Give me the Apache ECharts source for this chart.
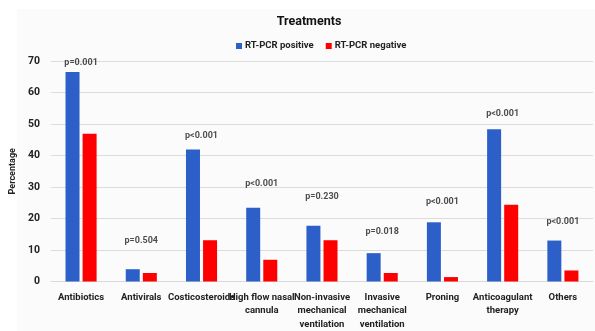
<!DOCTYPE html>
<html><head><meta charset="utf-8">
<script src="https://cdn.jsdelivr.net/npm/echarts@6/dist/echarts.min.js"></script>
<style>html,body{margin:0;padding:0;background:#fff}#c{width:595px;height:331px}</style>
</head><body><div id="c"></div>
<script>
const categories = ["Antibiotics","Antivirals","Costicosteroids","High flow nasal\ncannula","Non-invasive\nmechanical\nventilation","Invasive\nmechanical\nventilation","Proning","Anticoagulant\ntherapy","Others"];
const positive = [66.5, 3.9, 41.9, 23.4, 17.7, 9.0, 18.8, 48.3, 13.0];
const negative = [46.9, 2.7, 13.1, 6.9, 13.1, 2.7, 1.4, 24.4, 3.5];
const pLabels = ["p=0.001","p=0.504","p<0.001","p<0.001","p=0.230","p=0.018","p<0.001","p<0.001","p<0.001"];
const pLabelY = [69.4, 12.8, 46.2, 31.0, 26.8, 15.7, 25.2, 53.2, 19.1];
const yTicks = [0, 10, 20, 30, 40, 50, 60, 70];

const chart = echarts.init(document.getElementById('c'));
const font = 'Roboto, "Liberation Sans", sans-serif';
chart.setOption({
  animation: false,
  backgroundColor: '#fff',
  graphic: [{type:'rect', z:-10, shape:{x:17,y:9,width:578,height:322}, style:{fill:'#fbfbfb'}}],
  title: {text:'Treatments', left:304, top:10, textAlign:'center',
    textStyle:{fontFamily:font, fontSize:12.5, fontWeight:'bold', color:'#111'}},
  legend: {data:['RT-PCR positive','RT-PCR negative'], top:36, itemWidth:6, itemHeight:6, itemGap:12,
    left:231, icon:'rect',
    textStyle:{fontFamily:font, fontSize:9.5, fontWeight:'bold', color:'#222', padding:[0,0,0,-2]}},
  grid: {left:47, right:2, top:61, bottom:48},
  xAxis: {type:'category', data:categories,
    axisLine:{lineStyle:{color:'#d9d9d9'}}, axisTick:{show:false},
    axisLabel:{interval:0, fontFamily:font, fontSize:9.5, fontWeight:'bold', color:'#222', lineHeight:13.5, margin:9}},
  yAxis: {type:'value', min:0, max:70, interval:10,
    name:'Percentage', nameLocation:'middle', nameGap:25, nameRotate:90,
    nameTextStyle:{fontFamily:font, fontSize:9, fontWeight:'bold', color:'#222'},
    axisLine:{show:false}, axisTick:{show:false},
    axisLabel:{fontFamily:font, fontSize:10.5, fontWeight:'bold', color:'#222', margin:11,
      formatter:v=>yTicks.includes(v)?String(v):''},
    splitLine:{lineStyle:{color:'#dcdcdc', width:1}}},
  series: [
    {name:'RT-PCR positive', type:'bar', data:positive, barWidth:14, barGap:'22%',
      itemStyle:{color:'#2d5fc8'}},
    {name:'RT-PCR negative', type:'bar', data:negative, barWidth:14,
      itemStyle:{color:'#ff0000'}},
    {name:'p', type:'scatter', data:pLabelY.map((v,i)=>({value:v, label:{formatter:pLabels[i]}})),
      symbolSize:1, itemStyle:{color:'rgba(0,0,0,0)'}, silent:true,
      label:{show:true, position:'inside', fontFamily:font, fontSize:9, fontWeight:'bold', color:'#222'}}
  ]
});
</script></body></html>
